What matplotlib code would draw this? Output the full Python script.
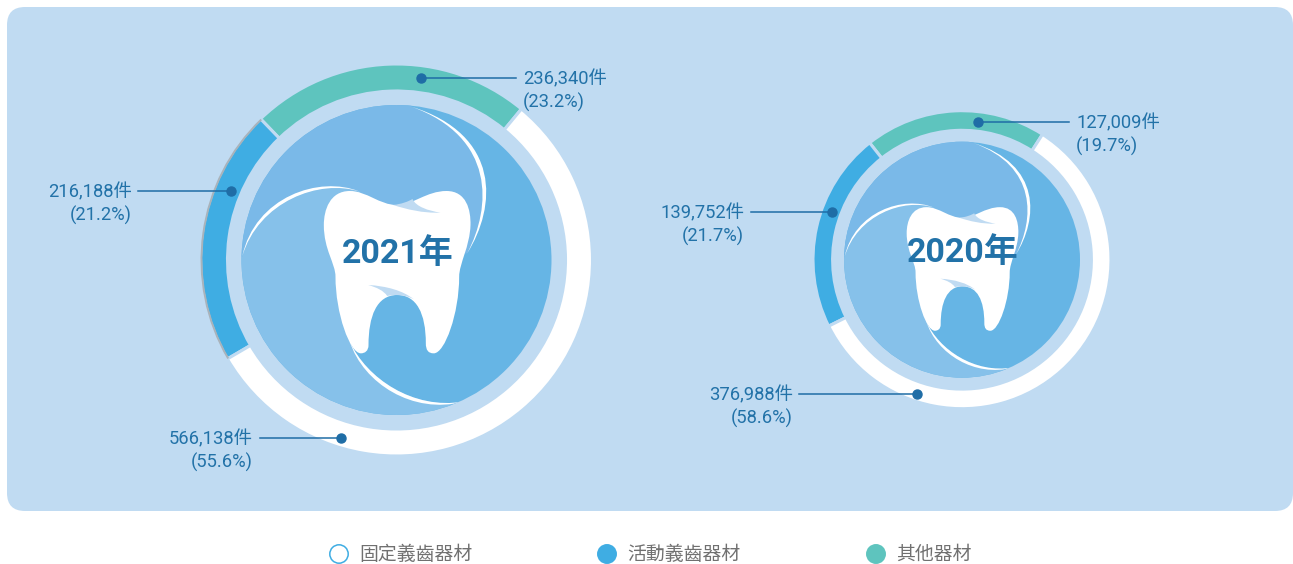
import matplotlib
matplotlib.use("Agg")
import matplotlib.pyplot as plt
import numpy as np
from matplotlib.patches import Circle, FancyBboxPatch, PathPatch, Arc
from matplotlib.path import Path

plt.rcParams['font.family'] = ['Roboto', 'Noto Sans CJK TC', 'DejaVu Sans']

# chart data
categories = ['固定義齒器材', '活動義齒器材', '其他器材']
values_2021 = [566138, 216188, 236340]
percent_2021 = [55.6, 21.2, 23.2]
values_2020 = [376988, 139752, 127009]
percent_2020 = [58.6, 21.7, 19.7]

BG = '#c0dbf2'
FIXED = '#ffffff'
REMOVABLE = '#3fade3'
OTHER = '#5ec4be'
TEXT = '#2272a8'
DOT = '#1f6da6'
W, H = 1293, 564

M, L, C, Z = Path.MOVETO, Path.LINETO, Path.CURVE4, Path.CLOSEPOLY

# artwork outlines, drawn relative to point (650, 630), y pointing down
TOOTH = [(M, (510, 423)),
         (C, (560, 423)), (C, (600, 465)), (C, (650, 465)),
         (C, (700, 465)), (C, (740, 423)), (C, (800, 423)),
         (C, (860, 423)), (C, (873, 480)), (C, (872, 525)),
         (C, (870, 590)), (C, (838, 640)), (C, (838, 680)),
         (C, (838, 790)), (C, (795, 910)), (C, (762, 910)),
         (C, (745, 910)), (C, (738, 900)), (C, (738, 880)),
         (C, (738, 790)), (C, (710, 735)), (C, (652, 735)),
         (C, (590, 735)), (C, (566, 800)), (C, (566, 885)),
         (C, (566, 903)), (C, (555, 910)), (C, (543, 910)),
         (C, (510, 910)), (C, (467, 790)), (C, (467, 680)),
         (C, (467, 640)), (C, (432, 600)), (C, (432, 525)),
         (C, (432, 480)), (C, (450, 423)), (C, (510, 423)),
         (Z, (510, 423))]
HIGHLIGHT_TOP = [(M, (640, 465)),
                 (C, (665, 462)), (C, (685, 455)), (C, (698, 447)),
                 (C, (708, 470)), (C, (745, 482)), (C, (782, 488)),
                 (C, (730, 490)), (C, (680, 478)), (C, (640, 465)),
                 (Z, (640, 465))]
HIGHLIGHT_BOTTOM = [(M, (565, 705)),
                    (C, (620, 708)), (C, (670, 722)), (C, (702, 748)),
                    (C, (670, 730)), (C, (635, 735)), (C, (622, 738)),
                    (C, (612, 722)), (C, (590, 712)), (C, (565, 705)),
                    (Z, (565, 705))]
REGION_TOP = [(M, (187, 620)),
              (C, (235, 455)), (C, (420, 385)), (C, (540, 425)),
              (L, (650, 630)), (L, (862, 610)),
              (C, (935, 472)), (C, (948, 262)), (C, (695, 170)),
              (L, (695, 100)), (L, (100, 100)), (L, (100, 620)),
              (Z, (187, 620))]
REGION_LEFT = [(M, (187, 620)),
               (C, (235, 455)), (C, (420, 385)), (C, (540, 425)),
               (L, (650, 630)), (L, (520, 650)), (L, (510, 875)),
               (C, (560, 985)), (C, (700, 1080)), (C, (850, 1055)),
               (L, (850, 1150)), (L, (100, 1150)), (L, (100, 620)),
               (Z, (187, 620))]
SWOOSH_RIGHT = [(M, (695, 170)),
                (C, (965, 255)), (C, (950, 470)), (C, (862, 610)),
                (C, (935, 472)), (C, (948, 262)), (C, (695, 170)),
                (Z, (695, 170))]
SWOOSH_LEFT = [(M, (187, 620)),
               (C, (225, 440)), (C, (420, 375)), (C, (540, 425)),
               (C, (420, 385)), (C, (235, 455)), (C, (187, 620)),
               (Z, (187, 620))]
SWOOSH_BOTTOM = [(M, (510, 875)),
                 (C, (550, 1000)), (C, (700, 1095)), (C, (850, 1055)),
                 (C, (700, 1080)), (C, (560, 985)), (C, (510, 875)),
                 (Z, (510, 875))]


def art_patch(outline, cx, cy, scale, color):
    """Place one outline at the chart centre as a filled patch."""
    codes = [o[0] for o in outline]
    pts = np.array([o[1] for o in outline], dtype=float)
    x = cx + (pts[:, 0] - 650) / 3 * scale
    y = cy - (pts[:, 1] - 630) / 3 * scale
    return PathPatch(Path(np.column_stack([x, y]), codes), facecolor=color,
                     edgecolor='none', linewidth=0)


def draw_donut(ax, cx, cy, radius, ring_width, disc_radius, start, values,
               year, gray_edge=False):
    cy = H - cy
    scale = disc_radius / 155
    # pie order goes counter clockwise from the right end of the green part
    ax.pie([values[2], values[1], values[0]], colors=[OTHER, REMOVABLE, FIXED],
           startangle=start, center=(cx, cy), radius=radius + 1,
           wedgeprops={'width': ring_width + 2, 'edgecolor': BG, 'linewidth': 2.2})
    if gray_edge:
        span = values[1] / sum(values) * 360
        t1 = start + values[2] / sum(values) * 360
        ax.add_patch(Arc((cx, cy), 2 * radius, 2 * radius, theta1=t1, theta2=t1 + span,
                         color='#a9b3bb', linewidth=1.4, zorder=2))

    disc = Circle((cx, cy), disc_radius, facecolor='#66b5e5', edgecolor='none', zorder=2)
    ax.add_patch(disc)
    for outline, color in [(REGION_TOP, '#7ab9e8'), (REGION_LEFT, '#86c1ea'),
                           (SWOOSH_RIGHT, 'white'), (SWOOSH_LEFT, 'white'),
                           (SWOOSH_BOTTOM, 'white')]:
        p = art_patch(outline, cx, cy, scale, color)
        p.set_zorder(2)
        ax.add_patch(p)
        p.set_clip_path(disc)
    for outline, color in [(TOOTH, 'white'), (HIGHLIGHT_TOP, BG), (HIGHLIGHT_BOTTOM, BG)]:
        p = art_patch(outline, cx, cy, scale, color)
        p.set_zorder(2.5)
        ax.add_patch(p)
    ax.text(cx + 1, cy + 10, f'{year}年', color=TEXT, fontsize=24.5, fontweight='bold',
            ha='center', va='center_baseline', zorder=5)


def callout(ax, dot, line_end, text_x, ha, value, pct):
    """Leader line with its dot and the two line label."""
    dx, dy = dot
    ax.plot([dx, line_end], [H - dy, H - dy], color=DOT, linewidth=1.1, zorder=4)
    ax.plot([dx], [H - dy], 'o', color=DOT, markersize=6.5, zorder=4)
    ax.text(text_x, H - dy - 1, f'{value:,}件', color=TEXT, fontsize=13.2,
            ha=ha, va='center', zorder=5)
    ax.text(text_x, H - dy - 24, f'({pct}%)', color=TEXT, fontsize=13.2,
            ha=ha, va='center', zorder=5)


fig = plt.figure(figsize=(W / 100, H / 100), dpi=100, facecolor='white')
ax = fig.add_axes([0, 0, 1, 1])

r = 18
ax.add_patch(FancyBboxPatch((7 + r, H - 511 + r), 1286 - 2 * r, 504 - 2 * r,
                            boxstyle=f'round,pad={r},rounding_size={r}',
                            facecolor=BG, edgecolor='none', zorder=0))

draw_donut(ax, 396.5, 260, 195, 25, 155, 50.4, values_2021, 2021, gray_edge=True)
draw_donut(ax, 962, 259.7, 148, 17.6, 118, 57.3, values_2020, 2020)

callout(ax, (421, 78), 516, 523, 'left', values_2021[2], percent_2021[2])
callout(ax, (231, 191), 138, 132, 'right', values_2021[1], percent_2021[1])
callout(ax, (341, 438), 260, 253, 'right', values_2021[0], percent_2021[0])
callout(ax, (978, 122), 1069, 1076, 'left', values_2020[2], percent_2020[2])
callout(ax, (832, 212), 751, 744, 'right', values_2020[1], percent_2020[1])
callout(ax, (917, 394), 799, 793, 'right', values_2020[0], percent_2020[0])

# legend
legend_x = [339, 607, 876]
legend_fill = [FIXED, REMOVABLE, OTHER]
legend_edge = [REMOVABLE, REMOVABLE, OTHER]
for x, name, fc, ec in zip(legend_x, categories, legend_fill, legend_edge):
    ax.add_patch(Circle((x, H - 554), 9.2, facecolor=fc, edgecolor=ec, linewidth=1.1))
    ax.text(x + 20.5, H - 555, name, color='#707070', fontsize=13.6, ha='left', va='center')

ax.set_xlim(0, W)
ax.set_ylim(0, H)
ax.set_aspect('equal')
ax.axis('off')

fig.savefig('out.png', dpi=100, facecolor='white')
